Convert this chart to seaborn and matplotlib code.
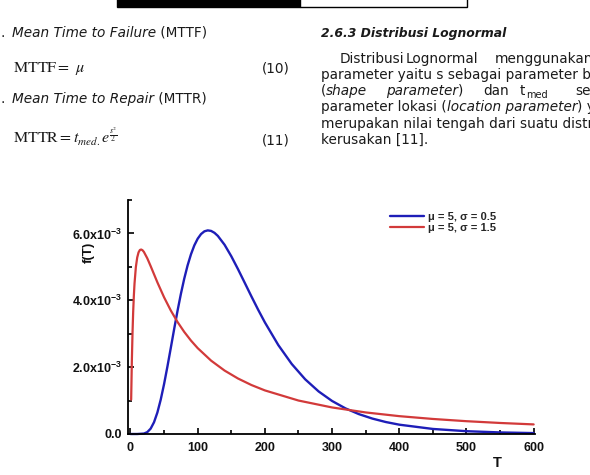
import matplotlib
matplotlib.use("Agg")
import matplotlib.pyplot as plt
import seaborn as sns
import pandas as pd
from matplotlib.ticker import MultipleLocator
from matplotlib.patches import Rectangle

# values, f(T) in units of 1e-3
# blue curve: mu = 5, sigma = 0.5
t_blue = [0, 10, 20, 25, 30, 35, 40, 45, 50, 55, 60, 65, 70, 75, 80, 85, 90, 95,
          100, 105, 110, 115, 120, 125, 130, 140, 150, 160, 170, 180, 190, 200,
          220, 240, 260, 280, 300, 320, 340, 360, 380, 400, 450, 500, 550, 600]
f_blue = [0.0, 0.0, 0.013, 0.056, 0.160, 0.351, 0.641, 1.028, 1.495, 2.021, 2.577,
          3.140, 3.684, 4.191, 4.647, 5.044, 5.375, 5.642, 5.842, 5.981, 6.063,
          6.091, 6.075, 6.018, 5.926, 5.661, 5.318, 4.931, 4.524, 4.115, 3.717,
          3.339, 2.660, 2.094, 1.636, 1.273, 0.988, 0.766, 0.594, 0.461, 0.358,
          0.279, 0.151, 0.084, 0.047, 0.027]

# red curve: mu = 5, sigma = 1.5
t_red = [1, 2, 3, 4, 5, 6, 8, 10, 12, 14, 16, 18, 20, 25, 30, 40, 50, 60, 70, 80,
         90, 100, 120, 140, 160, 180, 200, 250, 300, 350, 400, 450, 500, 550, 600]
f_red = [1.028, 2.156, 3.011, 3.652, 4.135, 4.500, 4.994, 5.279, 5.434, 5.505,
         5.519, 5.495, 5.446, 5.256, 5.023, 4.538, 4.089, 3.694, 3.351, 3.054,
         2.795, 2.569, 2.194, 1.898, 1.660, 1.465, 1.304, 1.001, 0.794, 0.645,
         0.534, 0.450, 0.383, 0.330, 0.287]

series_labels = ["\u03bc = 5, \u03c3 = 0.5", "\u03bc = 5, \u03c3 = 1.5"]
x_ticks = [0, 100, 200, 300, 400, 500, 600]
y_ticks = [0, 2, 4, 6]
y_tick_labels = ["0.0", r"2.0x10$^{-3}$", r"4.0x10$^{-3}$", r"6.0x10$^{-3}$"]

sns.set_style("ticks")
plt.rcParams["font.family"] = ["DejaVu Sans"]
plt.rcParams["mathtext.fontset"] = "custom"
plt.rcParams["mathtext.rm"] = "Liberation Sans:bold"
plt.rcParams["mathtext.it"] = "Liberation Sans:bold"
plt.rcParams["mathtext.bf"] = "Liberation Sans:bold"

fig = plt.figure(figsize=(5.9, 4.75), dpi=100)
fig.patch.set_facecolor("white")

# page layer in pixel coordinates
page = fig.add_axes([0, 0, 1, 1])
page.set_xlim(0, 590)
page.set_ylim(475, 0)
page.axis("off")

TXT = "#1a1a1a"
BODY = 9.8


def run(parts, x, y, size=BODY):
    # chain text pieces on one baseline
    prev = None
    for txt, style, weight in parts:
        kw = dict(fontsize=size, fontstyle=style, fontweight=weight, color=TXT)
        if prev is None:
            prev = page.text(x, y, txt, va="baseline", ha="left", **kw)
        else:
            prev = page.annotate(txt, xy=(1, 0), xycoords=prev, va="bottom",
                                 ha="left", **kw)
    return prev


# header strip
page.add_patch(Rectangle((117, -2), 183, 9, facecolor="black", edgecolor="black"))
page.add_patch(Rectangle((300, -2), 167, 9, facecolor="white", edgecolor="black", lw=1))

# left column
page.text(1, 37, ".", fontsize=BODY, color=TXT)
run([("Mean Time to Failure", "italic", "normal"), (" (MTTF)", "normal", "normal")], 12, 37)
page.text(13, 72, r"$\mathrm{MTTF} =\ \mu$", fontsize=11.5, color=TXT, math_fontfamily="stix")
page.text(262, 72, "(10)", fontsize=BODY, color=TXT)
page.text(1, 103, ".", fontsize=BODY, color=TXT)
run([("Mean Time to Repair", "italic", "normal"), (" (MTTR)", "normal", "normal")], 12, 103)
page.text(13, 144, r"$\mathrm{MTTR} = t_{med.}e^{\frac{s^2}{2}}$", fontsize=11.5,
          color=TXT, math_fontfamily="stix")
page.text(262, 144, "(11)", fontsize=BODY, color=TXT)

# right column
page.text(321, 37, "2.6.3 Distribusi Lognormal", fontsize=8.9, fontstyle="italic",
          fontweight="bold", color=TXT)
for word, wx in [("Distribusi", 340), ("Lognormal", 406), ("menggunakan", 495)]:
    page.text(wx, 63, word, fontsize=BODY, color=TXT)
run([("parameter yaitu s sebagai parameter bentuk", "normal", "normal")], 321, 79)
run([("(", "normal", "normal"), ("shape", "italic", "normal")], 321, 95)
run([("parameter", "italic", "normal"), (")", "normal", "normal")], 386, 95)
page.text(483, 95, "dan", fontsize=BODY, color=TXT)
tt = page.text(520, 95, "t", fontsize=BODY, color=TXT)
page.annotate("med", xy=(1, 0), xycoords=tt, xytext=(0.5, -1.5), textcoords="offset points",
              va="bottom", ha="left", fontsize=7, color=TXT)
page.text(575, 95, "sebagai", fontsize=BODY, color=TXT)
run([("parameter lokasi (", "normal", "normal"), ("location parameter", "italic", "normal"),
     (") yang", "normal", "normal")], 321, 111)
run([("merupakan nilai tengah dari suatu distribusi", "normal", "normal")], 321, 128)
run([("kerusakan [11].", "normal", "normal")], 321, 144)

# chart
ax = fig.add_axes([128 / 590, 1 - 434 / 475, 407 / 590, 234 / 475])
ax.patch.set_alpha(0)
df_blue = pd.DataFrame({"T": t_blue, "f": f_blue})
df_red = pd.DataFrame({"T": t_red, "f": f_red})
sns.lineplot(data=df_blue, x="T", y="f", color="#1e1eb8", lw=1.7, label=series_labels[0], ax=ax)
sns.lineplot(data=df_red, x="T", y="f", color="#d23a3a", lw=1.6, label=series_labels[1], ax=ax)
for ln in ax.lines:
    ln.set_clip_on(False)

ax.set_xlim(-3.7, 602)
ax.set_ylim(0, 7)
sns.despine(ax=ax)
for s in ["left", "bottom"]:
    ax.spines[s].set_linewidth(1.3)
    ax.spines[s].set_color("black")

ax.set_xticks(x_ticks, labels=[str(v) for v in x_ticks], fontweight="bold",
              fontfamily="Liberation Sans", fontsize=9)
ax.set_yticks(y_ticks, labels=y_tick_labels, fontweight="bold",
              fontfamily="Liberation Sans", fontsize=9)
ax.xaxis.set_minor_locator(MultipleLocator(50))
ax.yaxis.set_minor_locator(MultipleLocator(1))
ax.tick_params(which="both", direction="in", width=1.2, color="black", labelcolor="#111111")
ax.tick_params(which="major", length=4)
ax.tick_params(which="minor", length=3)
ax.tick_params(axis="x", pad=6)
ax.tick_params(axis="y", pad=4)
ax.set_xlabel("")
ax.set_ylabel("")

page.text(89, 252, "f(T)", rotation=90, ha="center", va="center", fontweight="bold",
          fontfamily="Liberation Sans", fontsize=9.5, color="#111111")
page.text(497, 463, "T", ha="center", va="center", fontweight="bold",
          fontfamily="Liberation Sans", fontsize=10.5, color="#111111")

ax.legend(loc="upper left", bbox_to_anchor=(390 / 590, 1 - 212 / 475),
          bbox_transform=fig.transFigure, frameon=False,
          prop={"family": "Liberation Sans", "weight": "bold", "size": 8},
          handlelength=3.1, handletextpad=0.3, labelspacing=0.05,
          borderpad=0, borderaxespad=0)

fig.savefig("out.png", dpi=100)
